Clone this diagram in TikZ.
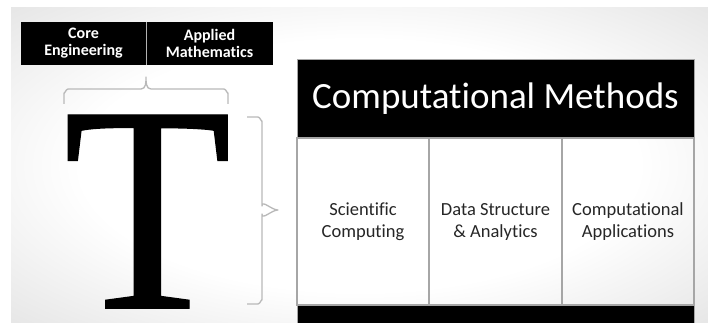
\documentclass[tikz,border=0pt]{standalone}
\usepackage{fontspec}
\setsansfont{Carlito}[Ligatures=NoCommon]
\newfontfamily\bigTfont[FakeBold=0.5]{Liberation Serif}
\usepackage{graphicx}
\usetikzlibrary{positioning}

\pgfdeclareradialshading{slidebg}{\pgfpoint{0bp}{0bp}}{color(0bp)=(white); color(20bp)=(white); color(48bp)=(gray!35); color(72bp)=(gray!48)}

\begin{document}
\begin{tikzpicture}[x=1pt, y=-1pt, font=\sffamily,
    topbox/.style={fill=black, text=white, font=\sffamily\bfseries\fontsize{16}{17}\selectfont,
      minimum height=43pt, inner sep=0pt, align=center},
    headbox/.style={draw=gray!70, line width=0.8pt, fill=black, text=white, font=\sffamily\fontsize{37}{40}\selectfont,
      minimum width=397pt, minimum height=79pt, inner sep=0pt},
    cellbox/.style={draw=gray!70, line width=1.2pt, text=black!85, font=\sffamily\fontsize{18.5}{22}\selectfont,
      minimum height=167pt, inner sep=0pt, align=center},
    footbox/.style={draw=gray!70, fill=black, minimum width=397pt, minimum height=18pt, inner sep=0pt},
    bracket/.style={draw=gray!55, line width=1.3pt, line join=round}]
  % slide background
  \fill[white] (0,0) rectangle (708,323);
  \shade[shading=slidebg] (11,8) rectangle (708,323);
  \useasboundingbox (0,0) rectangle (708,323);

  % top boxes
  \node [topbox, minimum width=126pt] (core) at (83.5,43.5) {Core\\Engineering};
  \node [topbox, minimum width=127pt] (appl) at (209.5,43.5) {Applied\\Mathematics};
  \draw [gray!60, line width=0.8pt] (core.north east) -- (core.south east);

  % the big T
  \node [inner sep=0pt] (T) at (147.5,211.5) {\resizebox{168pt}{193pt}{\bigTfont T}};

  % brace under the top boxes
  \coordinate (tl) at (64,104);
  \coordinate (tr) at (228,104);
  \coordinate (ttip) at (146,77);
  \draw [bracket] (tl) -- (64,93) to[out=-90,in=180] (68,89) -- (141,89)
    to[out=0,in=-90] (ttip) to[out=-90,in=180] (151,89) -- (224,89)
    to[out=0,in=-90] (228,93) -- (tr);

  % brace right of the T
  \coordinate (rt) at (247,117);
  \coordinate (rb) at (247,304);
  \coordinate (rtip) at (278,210);
  \draw [bracket] (rt) -- (258,117) to[out=0,in=-90] (262,121) -- (262,206)
    to[out=90,in=180] (rtip) to[out=180,in=-90] (262,214) -- (262,300)
    to[out=90,in=0] (258,304) -- (rb);

  % computational methods block
  \node [headbox] (cm) at (495.5,98.5) {Computational Methods};
  \node [cellbox, minimum width=132pt] (sci) at (363,221.5) {Scientific\\Computing};
  \node [cellbox, minimum width=133pt] (data) at (495.5,221.5) {Data Structure\\\& Analytics};
  \node [cellbox, minimum width=132pt] (capp) at (628,221.5) {Computational\\Applications};
  \node [footbox] (foot) at (495.5,314) {};
\end{tikzpicture}
\end{document}
